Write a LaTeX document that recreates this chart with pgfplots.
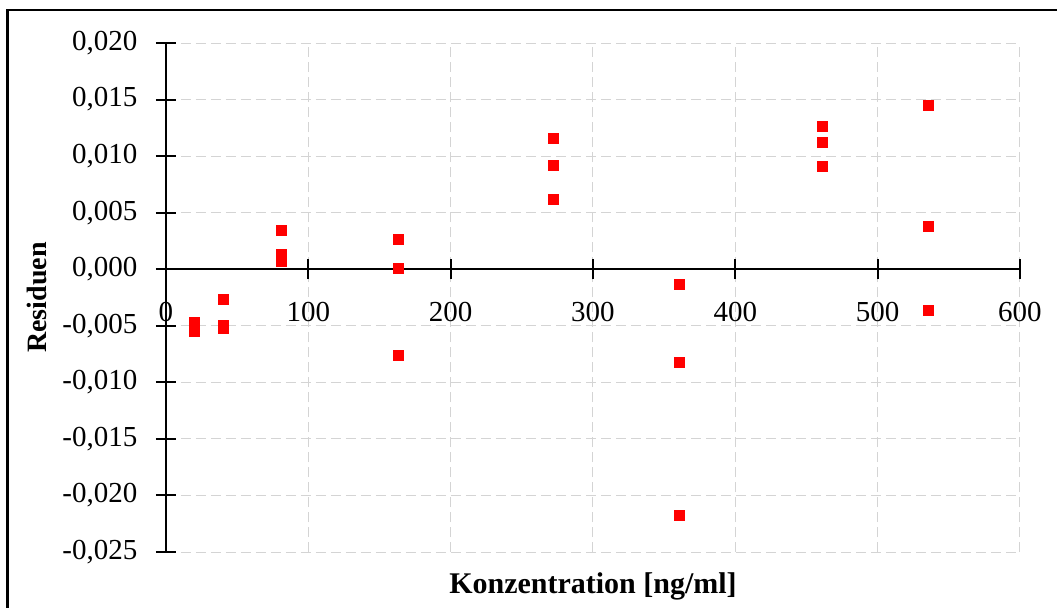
\documentclass[border=0pt]{standalone}
\usepackage{pgfplots}
\pgfplotsset{compat=1.18}
\usepackage{fontspec}
\setmainfont{Liberation Serif}
\definecolor{gridgray}{HTML}{D4D4D4}
\begin{document}
\fontsize{14pt}{16.8pt}\selectfont
\begin{tikzpicture}
\path[use as bounding box] (0,0) rectangle (528.5pt,303.5pt);
\draw[line width=1.15pt] (3.75pt,-20pt) -- (3.75pt,298.5pt) -- (560pt,298.5pt);
\begin{axis}[
  at={(83pt,27.5pt)}, anchor=south west,
  scale only axis, width=427pt, height=254.5pt,
  xmin=0, xmax=600, ymin=-0.025, ymax=0.020,
  axis x line=middle, axis y line=left,
  axis line style={-, line width=1pt},
  every inner x axis line/.append style={-},
  every outer y axis line/.append style={-},
  hide obscured x ticks=false, hide obscured y ticks=false,
  xtick={0,100,...,600},
  ytick={-0.025,-0.020,-0.015,-0.010,-0.005,0,0.005,0.010,0.015,0.020},
  tick align=center, major tick length=10pt,
  tick style={line width=1pt, black},
  grid=major,
  major grid style={gridgray, line width=0.5pt, dash pattern=on 5pt off 2.5pt},
  /pgf/number format/assume math mode=true,
  ticklabel style={font=\fontsize{14.5pt}{17pt}\selectfont},
  yticklabel style={xshift=-4.5pt, /pgf/number format/.cd, fixed, fixed zerofill, precision=3, use comma},
  scaled y ticks=false,
  xticklabel style={yshift=-6.5pt, /pgf/number format/.cd, fixed, precision=0},
  every axis x label/.style={at={(rel axis cs:0.5,0)}, yshift=-17pt, anchor=center, font=\fontsize{15pt}{18pt}\selectfont\bfseries},
  every axis y label/.style={at={(rel axis cs:0,0.5)}, xshift=-64.5pt, rotate=90, anchor=center, font=\fontsize{14pt}{17pt}\selectfont\bfseries},
  xlabel={Konzentration [ng/ml]},
  ylabel={Residuen},
]
\addplot[only marks, mark=square*, mark size=2.5pt, color=red, mark options={draw=red, fill=red}] coordinates {
(20,-0.0047) (20,-0.0051) (20,-0.0055)
(40,-0.0027) (40,-0.0050) (40,-0.0052)
(81,0.0034) (81,0.0013) (81,0.0007)
(163,0.0026) (163,0.0001) (163,-0.0076)
(272,0.0116) (272,0.0092) (272,0.0062)
(361,-0.0013) (361,-0.0082) (361,-0.0218)
(461,0.0126) (461,0.0112) (461,0.0091)
(536,0.0145) (536,0.0038) (536,-0.0036)
};
\end{axis}
\end{tikzpicture}
\end{document}
